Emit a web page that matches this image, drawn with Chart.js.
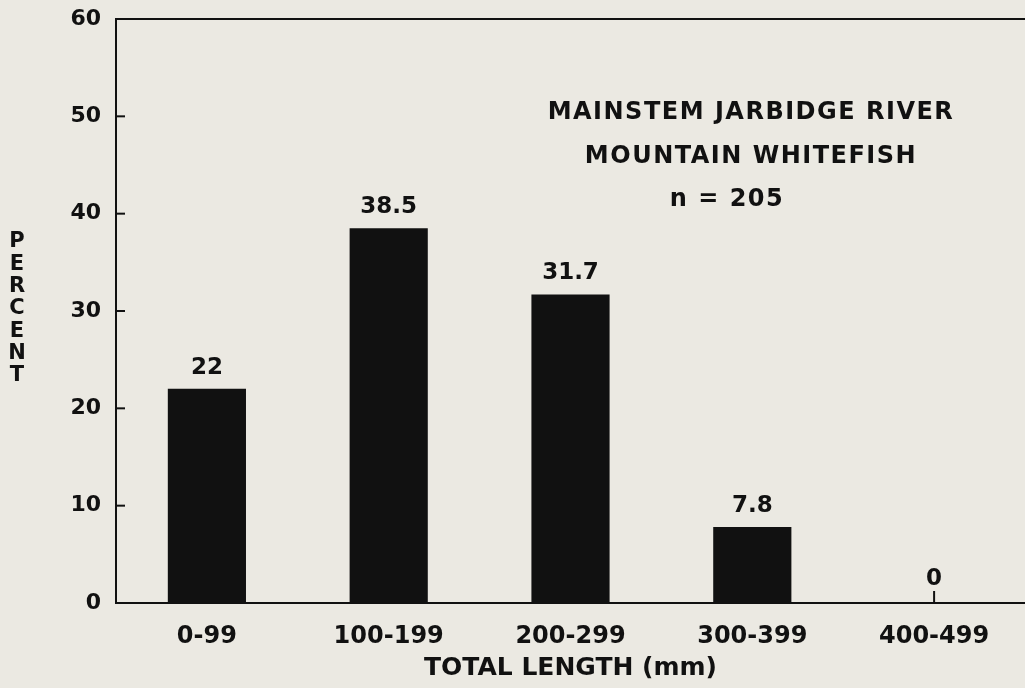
<!DOCTYPE html>
<html>
<head>
<meta charset="utf-8">
<script src="https://cdn.jsdelivr.net/npm/chart.js@4/dist/chart.umd.min.js"></script>
<style>
  html, body { margin: 0; padding: 0; background: #ebe9e2; }
  #wrap { width: 1025px; height: 688px; }
</style>
</head>
<body>
<div id="wrap"><canvas id="lengthChart"></canvas></div>
<script>
const categories = ["0-99", "100-199", "200-299", "300-399", "400-499"];
const percents = [22, 38.5, 31.7, 7.8, 0];
const valueLabels = ["22", "38.5", "31.7", "7.8", "0"];
const yTicks = [0, 10, 20, 30, 40, 50, 60];
const titleLines = ["MAINSTEM JARBIDGE RIVER", "MOUNTAIN WHITEFISH", "n = 205"];
const yTitle = "PERCENT";

const FONT = "'DejaVu Sans', Verdana, sans-serif";
const INK = "#111";

// frame top line, inward ticks, bar labels, notes
const extras = {
    id: "extras",
    afterDatasetsDraw(chart) {
        const ctx = chart.ctx;
        const area = chart.chartArea;
        const y = chart.scales.y;
        ctx.save();
        ctx.strokeStyle = INK;
        ctx.lineWidth = 2;
        ctx.beginPath();
        ctx.moveTo(area.left, area.top);
        ctx.lineTo(area.right, area.top);
        ctx.stroke();
        yTicks.forEach(v => {
            const py = y.getPixelForValue(v);
            ctx.beginPath();
            ctx.moveTo(area.left, py);
            ctx.lineTo(area.left + 9, py);
            ctx.stroke();
        });

        ctx.fillStyle = INK;
        ctx.font = "bold 23px " + FONT;
        ctx.textAlign = "center";
        ctx.textBaseline = "middle";
        const meta = chart.getDatasetMeta(0);
        meta.data.forEach((bar, i) => {
            const top = y.getPixelForValue(percents[i]);
            if (percents[i] === 0) {
                ctx.beginPath();
                ctx.moveTo(bar.x, top);
                ctx.lineTo(bar.x, top - 12);
                ctx.stroke();
                ctx.fillText(valueLabels[i], bar.x, top - 24);
            } else {
                ctx.fillText(valueLabels[i], bar.x, top - 21);
            }
        });

        ctx.font = "bold 24px " + FONT;
        ctx.letterSpacing = "1.5px";
        ctx.fillText(titleLines[0], 751, 113);
        ctx.fillText(titleLines[1], 751, 157);
        ctx.fillText(titleLines[2], 727, 200);
        ctx.letterSpacing = "0px";

        ctx.font = "bold 21px " + FONT;
        yTitle.split("").forEach((ch, i) => {
            ctx.fillText(ch, 17, 242 + i * 22.3);
        });
        ctx.restore();
    }
};

new Chart(document.getElementById("lengthChart"), {
    type: "bar",
    data: {
        labels: categories,
        datasets: [{
            label: "Percent",
            data: percents,
            backgroundColor: INK,
            borderWidth: 0,
            barPercentage: 0.43,
            categoryPercentage: 1
        }]
    },
    options: {
        responsive: true,
        maintainAspectRatio: false,
        animation: false,
        layout: { padding: { top: 19, right: 0, left: 0, bottom: 0 } },
        plugins: {
            legend: { display: false },
            tooltip: { enabled: false }
        },
        scales: {
            x: {
                grid: { display: false, drawTicks: false },
                border: { display: true, color: INK, width: 2 },
                ticks: { color: INK, font: { family: FONT, size: 24, weight: "bold" }, padding: 19 },
                title: {
                    display: true,
                    text: "TOTAL LENGTH (mm)",
                    color: INK,
                    font: { family: FONT, size: 25, weight: "bold" },
                    padding: { top: 4, bottom: 5 }
                },
                afterFit(scale) {
                    scale.height = 85;
                    scale.paddingLeft = 0;
                    scale.paddingRight = 0;
                }
            },
            y: {
                min: 0,
                max: 60,
                grid: { display: false, drawTicks: false },
                border: { display: true, color: INK, width: 2 },
                ticks: { stepSize: 10, color: INK, font: { family: FONT, size: 22, weight: "bold" }, padding: 15 },
                afterFit(scale) {
                    scale.width = 116;
                    scale.paddingTop = 0;
                    scale.paddingBottom = 0;
                }
            }
        }
    },
    plugins: [extras]
});
</script>
</body>
</html>
